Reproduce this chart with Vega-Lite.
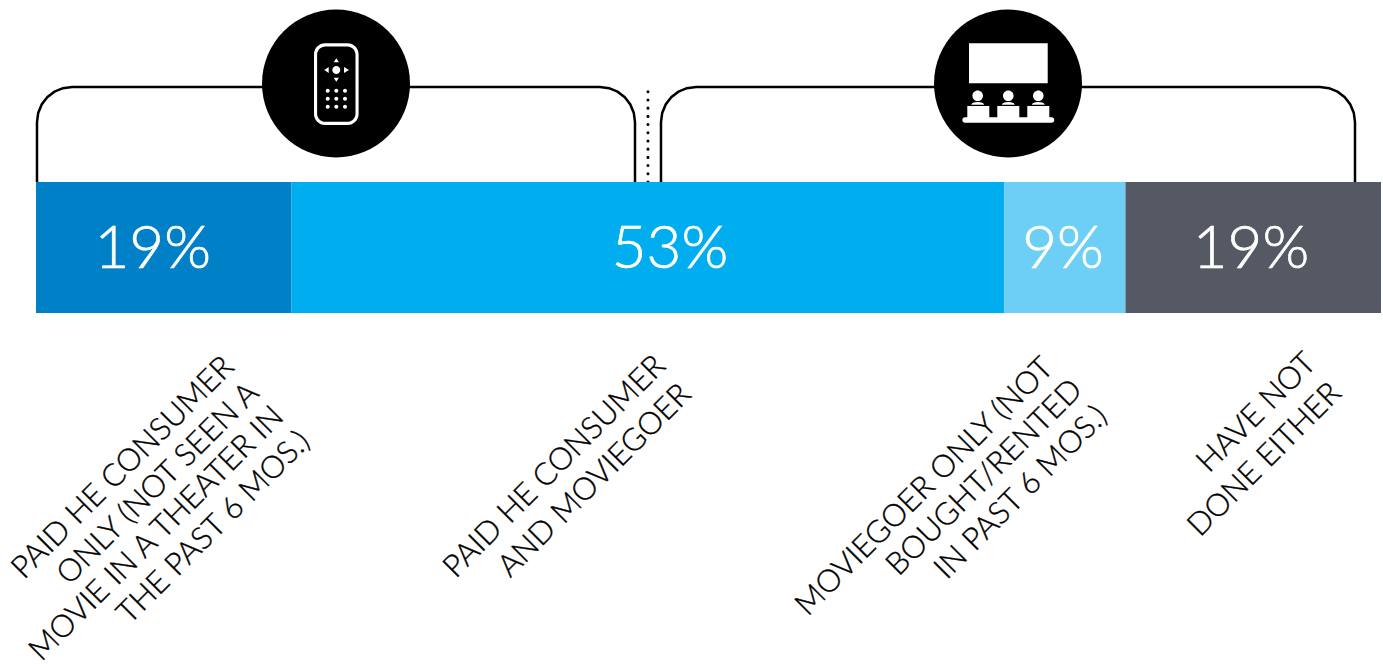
{
  "$schema": "https://vega.github.io/schema/vega-lite/v6.json",
  "width": 1383,
  "height": 664,
  "padding": 0,
  "autosize": {"type": "none"},
  "background": "white",
  "config": {"view": {"stroke": null}},
  "datasets": {
    "audience": [
      {"group": "Paid HE consumer only", "order": 1, "share": 19, "labelAt": 8.68, "color": "a"},
      {"group": "Paid HE consumer and moviegoer", "order": 2, "share": 53, "labelAt": 47.138, "color": "b"},
      {"group": "Moviegoer only", "order": 3, "share": 9, "labelAt": 76.357, "color": "c"},
      {"group": "Have not done either", "order": 4, "share": 19, "labelAt": 90.335, "color": "d"}
    ],
    "brackets": [
      {"b": "home", "o": 1, "x": 0.074, "y": 182},
      {"b": "home", "o": 2, "x": 0.074, "y": 122},
      {"b": "home", "o": 3, "x": 0.164, "y": 112.9},
      {"b": "home", "o": 4, "x": 0.424, "y": 104.5},
      {"b": "home", "o": 5, "x": 0.836, "y": 97.25},
      {"b": "home", "o": 6, "x": 1.375, "y": 91.7},
      {"b": "home", "o": 7, "x": 2.0, "y": 88.2},
      {"b": "home", "o": 8, "x": 2.677, "y": 87},
      {"b": "home", "o": 9, "x": 41.933, "y": 87},
      {"b": "home", "o": 10, "x": 42.61, "y": 88.2},
      {"b": "home", "o": 11, "x": 43.234, "y": 91.7},
      {"b": "home", "o": 12, "x": 43.773, "y": 97.25},
      {"b": "home", "o": 13, "x": 44.186, "y": 104.5},
      {"b": "home", "o": 14, "x": 44.446, "y": 112.9},
      {"b": "home", "o": 15, "x": 44.535, "y": 122},
      {"b": "home", "o": 16, "x": 44.535, "y": 182},
      {"b": "theater", "o": 1, "x": 46.468, "y": 182},
      {"b": "theater", "o": 2, "x": 46.468, "y": 122},
      {"b": "theater", "o": 3, "x": 46.558, "y": 112.9},
      {"b": "theater", "o": 4, "x": 46.818, "y": 104.5},
      {"b": "theater", "o": 5, "x": 47.23, "y": 97.25},
      {"b": "theater", "o": 6, "x": 47.77, "y": 91.7},
      {"b": "theater", "o": 7, "x": 48.39, "y": 88.2},
      {"b": "theater", "o": 8, "x": 49.07, "y": 87},
      {"b": "theater", "o": 9, "x": 95.465, "y": 87},
      {"b": "theater", "o": 10, "x": 96.14, "y": 88.2},
      {"b": "theater", "o": 11, "x": 96.766, "y": 91.7},
      {"b": "theater", "o": 12, "x": 97.305, "y": 97.25},
      {"b": "theater", "o": 13, "x": 97.717, "y": 104.5},
      {"b": "theater", "o": 14, "x": 97.978, "y": 112.9},
      {"b": "theater", "o": 15, "x": 98.067, "y": 122},
      {"b": "theater", "o": 16, "x": 98.067, "y": 182}
    ],
    "captions": [
      {"t": "PAID HE CONSUMER", "x": 6.5, "y": 468},
      {"t": "ONLY (NOT SEEN A", "x": 9.1, "y": 484},
      {"t": "MOVIE IN A THEATER IN", "x": 9.0, "y": 534},
      {"t": "THE PAST 6 MOS.)", "x": 13.25, "y": 528},
      {"t": "PAID HE CONSUMER", "x": 38.59, "y": 467},
      {"t": "AND MOVIEGOER", "x": 41.56, "y": 481},
      {"t": "MOVIEGOER ONLY (NOT", "x": 66.1, "y": 487},
      {"t": "BOUGHT/RENTED", "x": 70.55, "y": 478},
      {"t": "IN PAST 6 MOS.)", "x": 73.27, "y": 493},
      {"t": "HAVE NOT", "x": 90.78, "y": 413},
      {"t": "DONE EITHER", "x": 91.38, "y": 460}
    ]
  },
  "layer": [
    {
      "data": {"name": "brackets"},
      "mark": {"type": "line", "stroke": "#000000", "strokeWidth": 2.5, "interpolate": "linear"},
      "encoding": {
        "x": {"field": "x", "type": "quantitative", "axis": null, "scale": {"domain": [-2.677, 100.149], "nice": false, "zero": false}},
        "y": {"field": "y", "type": "quantitative", "axis": null, "scale": {"domain": [664, 0], "nice": false, "zero": false}},
        "detail": {"field": "b"},
        "order": {"field": "o", "type": "quantitative"}
      }
    },
    {
      "data": {"values": [{"divider": 45.5}]},
      "mark": {"type": "rule", "stroke": "#000000", "strokeWidth": 3, "strokeCap": "round", "strokeDash": [0.1, 8.1]},
      "encoding": {
        "x": {"field": "divider", "type": "quantitative", "axis": null, "scale": {"domain": [-2.677, 100.149], "nice": false, "zero": false}},
        "y": {"datum": 182, "axis": null, "scale": {"domain": [664, 0], "nice": false, "zero": false}},
        "y2": {"datum": 86}
      }
    },
    {
      "data": {"name": "audience"},
      "transform": [
        {"stack": "share", "groupby": [], "sort": [{"field": "order", "order": "ascending"}], "as": ["x0", "x1"]}
      ],
      "mark": {"type": "rect"},
      "encoding": {
        "x": {"field": "x0", "type": "quantitative", "axis": null, "scale": {"domain": [-2.677, 100.149], "nice": false, "zero": false}},
        "x2": {"field": "x1"},
        "y": {"datum": 182, "axis": null, "scale": {"domain": [664, 0], "nice": false, "zero": false}},
        "y2": {"datum": 313},
        "color": {"field": "color", "type": "nominal", "legend": null, "scale": {"domain": ["a", "b", "c", "d"], "range": ["#0080c6", "#00aeef", "#6dcff6", "#555963"]}}
      }
    },
    {
      "data": {"name": "audience"},
      "transform": [{"calculate": "datum.share + '%'", "as": "pct"}],
      "mark": {"type": "text", "font": "Lato", "fontWeight": 300, "fontSize": 60, "fill": "#ffffff", "stroke": "#ffffff", "strokeWidth": 0.7, "align": "center", "baseline": "middle"},
      "encoding": {
        "x": {"field": "labelAt", "type": "quantitative", "axis": null, "scale": {"domain": [-2.677, 100.149], "nice": false, "zero": false}},
        "y": {"datum": 250, "axis": null, "scale": {"domain": [664, 0], "nice": false, "zero": false}},
        "text": {"field": "pct"}
      }
    },
    {
      "data": {"name": "captions"},
      "mark": {"type": "text", "font": "Lato", "fontWeight": 300, "fontSize": 31, "fill": "#000000", "stroke": "#000000", "strokeWidth": 0.35, "align": "center", "baseline": "middle", "angle": -45},
      "encoding": {
        "x": {"field": "x", "type": "quantitative", "axis": null, "scale": {"domain": [-2.677, 100.149], "nice": false, "zero": false}},
        "y": {"field": "y", "type": "quantitative", "axis": null, "scale": {"domain": [664, 0], "nice": false, "zero": false}},
        "text": {"field": "t"}
      }
    },
    {
      "data": {"values": [{"hub": 22.305}, {"hub": 72.268}]},
      "mark": {"type": "point", "shape": "circle", "filled": true, "fill": "#000000", "stroke": null, "opacity": 1, "size": 21904},
      "encoding": {
        "x": {"field": "hub", "type": "quantitative", "axis": null, "scale": {"domain": [-2.677, 100.149], "nice": false, "zero": false}},
        "y": {"datum": 83.5, "axis": null, "scale": {"domain": [664, 0], "nice": false, "zero": false}}
      }
    },
    {
      "data": {"values": [{"hub": 22.305}]},
      "mark": {
        "type": "point",
        "filled": true,
        "fill": "#ffffff",
        "stroke": null,
        "opacity": 1,
        "size": 40000,
        "shape": "M-0.11,-0.402 H0.116 A0.11,0.11 0 0 1 0.226,-0.292 V0.305 A0.11,0.11 0 0 1 0.116,0.415 H-0.11 A0.11,0.11 0 0 1 -0.22,0.305 V-0.292 A0.11,0.11 0 0 1 -0.11,-0.402 Z M-0.107,-0.37 A0.082,0.082 0 0 0 -0.189,-0.289 V0.302 A0.082,0.082 0 0 0 -0.107,0.383 H0.113 A0.082,0.082 0 0 0 0.195,0.302 V-0.289 A0.082,0.082 0 0 0 0.113,-0.37 Z M-0.037,-0.135 a0.04,0.04 0 1 0 0.08,0 a0.04,0.04 0 1 0 -0.08,0 Z M0.003,-0.252 L0.029,-0.212 L-0.023,-0.212 Z M0.003,-0.018 L0.029,-0.058 L-0.023,-0.058 Z M-0.117,-0.135 L-0.073,-0.165 L-0.073,-0.105 Z M0.13,-0.135 L0.08,-0.165 L0.08,-0.105 Z M-0.103,0.072 a0.02,0.02 0 1 0 0.04,0 a0.02,0.02 0 1 0 -0.04,0 Z M-0.017,0.072 a0.02,0.02 0 1 0 0.04,0 a0.02,0.02 0 1 0 -0.04,0 Z M0.07,0.072 a0.02,0.02 0 1 0 0.04,0 a0.02,0.02 0 1 0 -0.04,0 Z M-0.103,0.152 a0.02,0.02 0 1 0 0.04,0 a0.02,0.02 0 1 0 -0.04,0 Z M-0.017,0.152 a0.02,0.02 0 1 0 0.04,0 a0.02,0.02 0 1 0 -0.04,0 Z M0.07,0.152 a0.02,0.02 0 1 0 0.04,0 a0.02,0.02 0 1 0 -0.04,0 Z M-0.103,0.232 a0.02,0.02 0 1 0 0.04,0 a0.02,0.02 0 1 0 -0.04,0 Z M-0.017,0.232 a0.02,0.02 0 1 0 0.04,0 a0.02,0.02 0 1 0 -0.04,0 Z M0.07,0.232 a0.02,0.02 0 1 0 0.04,0 a0.02,0.02 0 1 0 -0.04,0 Z"
      },
      "encoding": {
        "x": {"field": "hub", "type": "quantitative", "axis": null, "scale": {"domain": [-2.677, 100.149], "nice": false, "zero": false}},
        "y": {"datum": 83.5, "axis": null, "scale": {"domain": [664, 0], "nice": false, "zero": false}}
      }
    },
    {
      "data": {"values": [{"hub": 72.268}]},
      "mark": {
        "type": "point",
        "filled": true,
        "fill": "#ffffff",
        "stroke": null,
        "opacity": 1,
        "size": 40000,
        "shape": "M-0.39,-0.402 H0.397 V-0.002 H-0.39 Z M-0.356,0.122 a0.053,0.053 0 1 0 0.106,0 a0.053,0.053 0 1 0 -0.106,0 Z M-0.05,0.122 a0.053,0.053 0 1 0 0.106,0 a0.053,0.053 0 1 0 -0.106,0 Z M0.25,0.122 a0.053,0.053 0 1 0 0.106,0 a0.053,0.053 0 1 0 -0.106,0 Z M-0.368,0.212 Q-0.36,0.185 -0.303,0.185 Q-0.246,0.185 -0.238,0.212 Z M-0.062,0.212 Q-0.054,0.185 0.003,0.185 Q0.06,0.185 0.068,0.212 Z M0.238,0.212 Q0.246,0.185 0.303,0.185 Q0.36,0.185 0.368,0.212 Z M-0.407,0.225 H-0.187 V0.338 H-0.407 Z M-0.107,0.225 H0.113 V0.338 H-0.107 Z M0.193,0.225 H0.413 V0.338 H0.193 Z M-0.43,0.338 H0.436 A0.027,0.027 0 0 1 0.436,0.392 H-0.43 A0.027,0.027 0 0 1 -0.43,0.338 Z"
      },
      "encoding": {
        "x": {"field": "hub", "type": "quantitative", "axis": null, "scale": {"domain": [-2.677, 100.149], "nice": false, "zero": false}},
        "y": {"datum": 83.5, "axis": null, "scale": {"domain": [664, 0], "nice": false, "zero": false}}
      }
    }
  ]
}
